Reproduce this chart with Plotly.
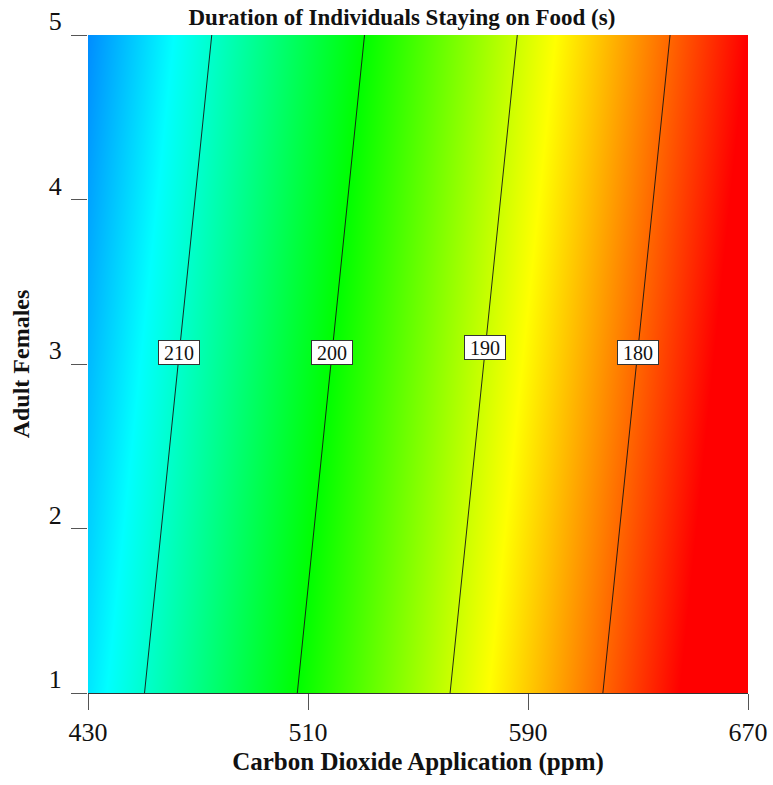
import plotly.graph_objects as go

# Data (response surface corners)
co2_ppm = [430, 670]            # x grid
adult_females = [1, 5]          # y grid
duration_s = [                  # z[y][x]
    [213.7, 170.5],
    [218.1, 174.9],
]
contour_levels = [180, 190, 200, 210]
label_y = [3.07, 3.10, 3.07, 3.07]   # y where each level label sits
x_ticks = [430, 510, 590, 670]
y_ticks = [1, 2, 3, 4, 5]

colorscale = [
    [0.0, "rgb(255,0,0)"],
    [0.25, "rgb(255,255,0)"],
    [0.5, "rgb(0,255,0)"],
    [0.75, "rgb(0,255,255)"],
    [1.0, "rgb(0,0,255)"],
]

SERIF = "Liberation Serif, Times New Roman, serif"

fig = go.Figure()
fig.add_trace(go.Contour(
    x=co2_ppm, y=adult_females, z=duration_s,
    colorscale=colorscale, zauto=False, zmin=175, zmax=225,
    contours=dict(start=min(contour_levels), end=max(contour_levels),
                  size=10, coloring="heatmap", showlabels=False),
    line=dict(color="rgba(20,20,20,0.9)", width=1),
    showscale=False, hoverinfo="skip",
))


def x_at_level(level, y):
    # bilinear surface -> solve for x along row y
    t = (y - adult_females[0]) / (adult_females[1] - adult_females[0])
    zl = duration_s[0][0] + t * (duration_s[1][0] - duration_s[0][0])
    zr = duration_s[0][1] + t * (duration_s[1][1] - duration_s[0][1])
    f = (level - zl) / (zr - zl)
    return co2_ppm[0] + f * (co2_ppm[1] - co2_ppm[0])


for lev, ly in zip(contour_levels, label_y):
    fig.add_annotation(
        x=x_at_level(lev, ly), y=ly, text=str(lev), showarrow=False,
        font=dict(family=SERIF, size=20, color="#111"),
        bgcolor="white", bordercolor="#333", borderwidth=1, borderpad=1,
        width=38, height=21, align="center", valign="middle",
        xanchor="center", yanchor="middle",
    )

fig.update_layout(
    width=773, height=785,
    margin=dict(l=88, r=25, t=35, b=92, autoexpand=False),
    paper_bgcolor="white", plot_bgcolor="white",
    title=dict(text="<b>Duration of Individuals Staying on Food (s)</b>",
               font=dict(family=SERIF, size=23, color="#111"),
               x=0.52, xanchor="center", y=0.978, yanchor="middle"),
    xaxis=dict(
        range=[430, 670], tickvals=x_ticks, ticks="outside", ticklen=16,
        tickcolor="#555", tickwidth=1, showgrid=False, zeroline=False,
        showline=True, linecolor="#333", linewidth=1, automargin=False,
        tickfont=dict(family=SERIF, size=26, color="#111"),
        title=dict(text="<b>Carbon Dioxide Application (ppm)</b>",
                   font=dict(family=SERIF, size=25, color="#111"), standoff=6),
    ),
    yaxis=dict(
        range=[1, 5], tickvals=y_ticks, ticks="outside", ticklen=16,
        tickcolor="#555", tickwidth=1, showgrid=False, zeroline=False,
        showline=False, ticklabelshift=-14, ticklabelstandoff=4,
        automargin=False,
        tickfont=dict(family=SERIF, size=26, color="#111"),
        title=dict(text="<b>Adult Females</b>",
                   font=dict(family=SERIF, size=24, color="#111"), standoff=12),
    ),
)

fig.write_html("out.html")
